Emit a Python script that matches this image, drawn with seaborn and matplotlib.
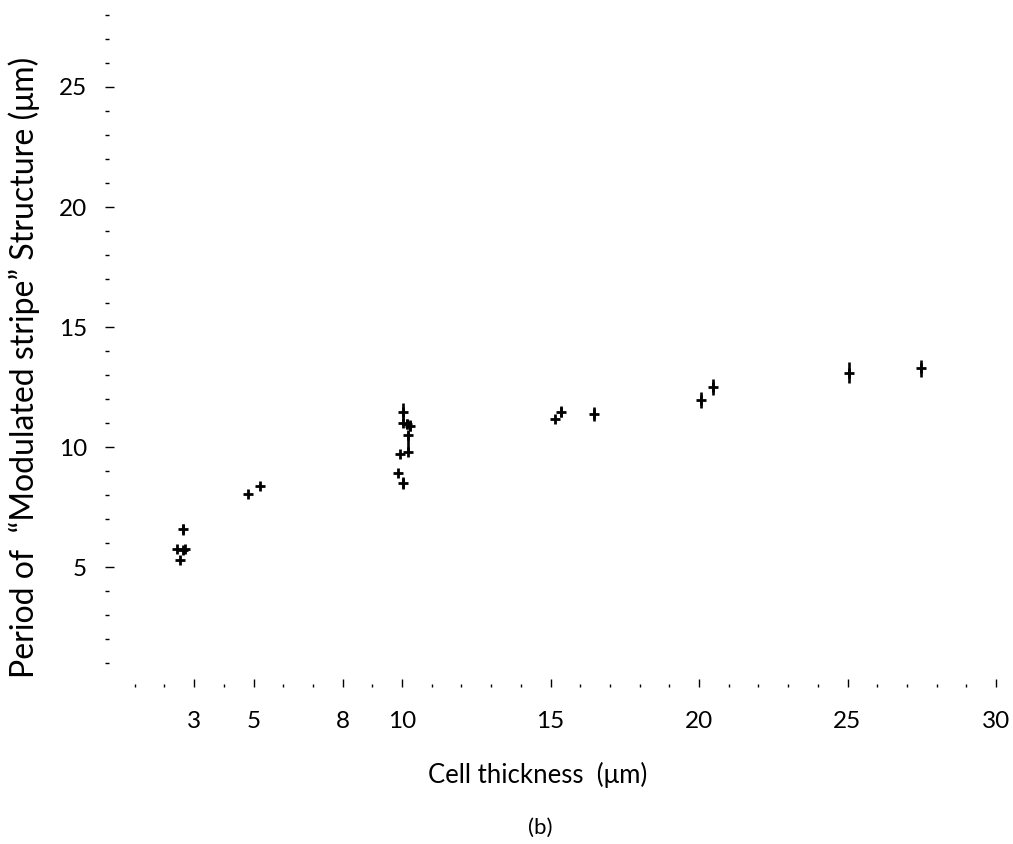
import numpy as np
import pandas as pd
import matplotlib
matplotlib.use("Agg")
import matplotlib.pyplot as plt
import seaborn as sns
from matplotlib.ticker import FixedLocator

# ---- data ----
thickness = [2.41, 2.53, 2.61, 2.69, 2.61, 4.83, 5.22,
             9.88, 9.93, 10.02, 10.02, 10.04, 10.16, 10.27, 10.20, 10.20,
             15.15, 15.34, 16.45, 20.06, 20.48, 25.06, 27.47]
period = [5.74, 5.29, 5.71, 5.75, 6.57, 8.04, 8.39,
          8.93, 9.71, 8.50, 10.99, 11.47, 10.96, 10.89, 10.50, 9.80,
          11.17, 11.47, 11.37, 11.96, 12.49, 13.10, 13.28]
err_low = [0.0, 0.0, 0.0, 0.0, 0.24, 0.0, 0.0,
           0.0, 0.0, 0.24, 0.0, 0.37, 0.22, 0.22, 0.72, 0.0,
           0.0, 0.24, 0.28, 0.33, 0.34, 0.43, 0.35]
err_high = [0.0, 0.0, 0.0, 0.0, 0.24, 0.0, 0.0,
            0.0, 0.0, 0.24, 0.0, 0.37, 0.22, 0.22, 0.12, 0.0,
            0.0, 0.24, 0.28, 0.33, 0.34, 0.43, 0.35]

x_major = [3, 5, 8, 10, 15, 20, 25, 30]
x_labels = ["3", "5", "8", "10", "15", "20", "25", "30"]
y_major = [5, 10, 15, 20, 25]
y_labels = ["5", "10", "15", "20", "25"]

df = pd.DataFrame({"thickness": thickness, "period": period})

sns.set_theme(style="white")
plt.rcParams["font.family"] = ["Lato", "DejaVu Sans"]

W, H = 1013, 844
fig = plt.figure(figsize=(W / 100, H / 100), dpi=100)
x0_px, y0_px = 105, 687
xmax, ymax = 30.3, 28.5
ax = fig.add_axes([x0_px / W, (H - y0_px) / H, xmax * 29.7 / W, ymax * 24.0 / H])

ax.errorbar(thickness, period, yerr=[err_low, err_high], fmt="none",
            ecolor="black", elinewidth=1.9, capsize=0, zorder=2)
sns.scatterplot(data=df, x="thickness", y="period", marker="+", s=45,
                color="black", linewidth=2.0, ax=ax, zorder=3, legend=False)

ax.set_xlim(0, xmax)
ax.set_ylim(0, ymax)
for sp in ax.spines.values():
    sp.set_visible(False)

ax.xaxis.set_major_locator(FixedLocator(x_major))
ax.set_xticklabels(x_labels)
ax.xaxis.set_minor_locator(FixedLocator([v for v in range(1, 31) if v not in x_major]))
ax.yaxis.set_major_locator(FixedLocator(y_major))
ax.set_yticklabels(y_labels)
ax.yaxis.set_minor_locator(FixedLocator([v for v in range(1, 29) if v not in y_major]))

ax.tick_params(axis="x", which="major", direction="in", length=6, width=1.0,
               color="black", labelsize=17.5, pad=17, bottom=True)
ax.tick_params(axis="x", which="minor", direction="in", length=2.2, width=1.0,
               color="black", bottom=True)
ax.tick_params(axis="y", which="major", direction="in", length=6.5, width=1.0,
               color="black", labelsize=17.5, pad=13, left=True)
ax.tick_params(axis="y", which="minor", direction="in", length=3, width=1.0,
               color="black", left=True)
for t in ax.get_xticklabels() + ax.get_yticklabels():
    t.set_color("black")

ax.set_xlabel("Cell thickness  (\u03bcm)", fontsize=18.5, color="black")
ax.set_ylabel("Period of  \u201cModulated stripe\u201d Structure (\u03bcm)",
              fontsize=23, color="black")
ax.xaxis.set_label_coords((538 - x0_px) / (xmax * 29.7), -(775 - y0_px) / (ymax * 24.0))
ax.yaxis.set_label_coords(-(x0_px - 24) / (xmax * 29.7), (y0_px - 367) / (ymax * 24.0))
ax.xaxis.label.set_va("center")
ax.yaxis.label.set_va("center")

fig.text(540 / W, 1 - 828 / H, "(b)", fontsize=16, ha="center", va="center", color="black")

fig.savefig("out.png", dpi=100)
